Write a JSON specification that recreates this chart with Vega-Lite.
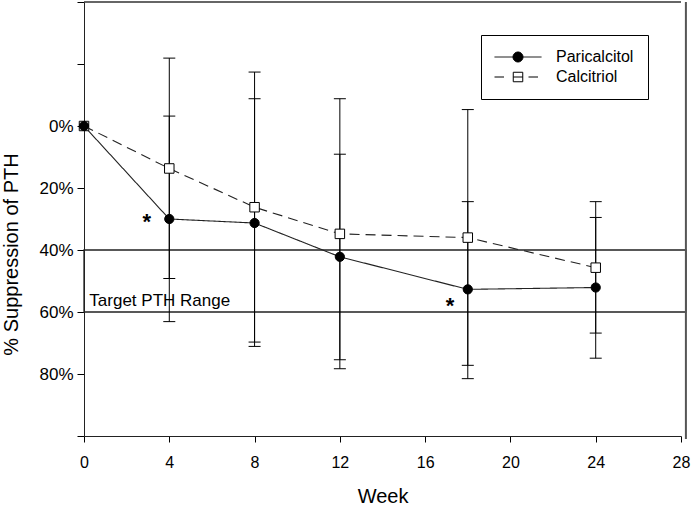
{
  "$schema": "https://vega.github.io/schema/vega-lite/v6.json",
  "width": 597,
  "height": 434,
  "autosize": {"type": "none"},
  "padding": {"left": 84, "top": 2, "right": 12, "bottom": 70},
  "background": "white",
  "config": {"view": {"stroke": null}, "font": "Liberation Sans"},
  "datasets": {
    "series": [
      {"week": 0, "series": "Calcitriol", "value": 0, "lo": null, "hi": null},
      {"week": 4, "series": "Calcitriol", "value": 13.7, "lo": -21.9, "hi": 49.2},
      {"week": 8, "series": "Calcitriol", "value": 26.2, "lo": -17.4, "hi": 69.7},
      {"week": 12, "series": "Calcitriol", "value": 34.8, "lo": -8.8, "hi": 78.3},
      {"week": 18, "series": "Calcitriol", "value": 36.0, "lo": -5.3, "hi": 77.2},
      {"week": 24, "series": "Calcitriol", "value": 45.7, "lo": 24.4, "hi": 66.8},
      {"week": 0, "series": "Paricalcitol", "value": 0, "lo": null, "hi": null},
      {"week": 4, "series": "Paricalcitol", "value": 30.0, "lo": -3.2, "hi": 63.1},
      {"week": 8, "series": "Paricalcitol", "value": 31.3, "lo": -8.8, "hi": 71.1},
      {"week": 12, "series": "Paricalcitol", "value": 42.2, "lo": 9.1, "hi": 75.4},
      {"week": 18, "series": "Paricalcitol", "value": 52.7, "lo": 24.4, "hi": 81.5},
      {"week": 24, "series": "Paricalcitol", "value": 52.1, "lo": 29.5, "hi": 74.9}
    ],
    "stars": [
      {"week": 2.95, "value": 29.4, "label": "*"},
      {"week": 17.17, "value": 56.6, "label": "*"}
    ],
    "notes": [
      {"week": 0.25, "value": 58, "label": "Target PTH Range"}
    ],
    "one": [{}]
  },
  "layer": [
    {
      "data": {"name": "one"},
      "mark": {"type": "rect", "fillOpacity": 0, "stroke": "#222", "strokeWidth": 1.3},
      "encoding": {
        "x": {"datum": 0, "type": "quantitative"},
        "x2": {"datum": 28.23},
        "y": {"datum": 40, "type": "quantitative"},
        "y2": {"datum": 60}
      }
    },
    {
      "data": {"name": "one"},
      "mark": {"type": "rule", "stroke": "#333", "strokeWidth": 1.3},
      "encoding": {
        "x": {"datum": 0, "type": "quantitative"},
        "x2": {"datum": 28},
        "y": {"datum": -40, "type": "quantitative"}
      }
    },
    {
      "data": {"name": "one"},
      "mark": {"type": "rule", "stroke": "#555", "strokeWidth": 2},
      "encoding": {
        "x": {"datum": 28.23, "type": "quantitative"},
        "y": {"datum": -40, "type": "quantitative"},
        "y2": {"datum": 101}
      }
    },
    {
      "data": {"name": "series"},
      "mark": {"type": "rule", "stroke": "black", "strokeWidth": 1},
      "encoding": {
        "x": {"field": "week", "type": "quantitative"},
        "y": {"field": "lo", "type": "quantitative"},
        "y2": {"field": "hi"}
      }
    },
    {
      "data": {"name": "series"},
      "mark": {"type": "tick", "orient": "horizontal", "color": "black", "size": 12, "thickness": 1, "opacity": 1},
      "encoding": {
        "x": {"field": "week", "type": "quantitative"},
        "y": {"field": "lo", "type": "quantitative"}
      }
    },
    {
      "data": {"name": "series"},
      "mark": {"type": "tick", "orient": "horizontal", "color": "black", "size": 12, "thickness": 1, "opacity": 1},
      "encoding": {
        "x": {"field": "week", "type": "quantitative"},
        "y": {"field": "hi", "type": "quantitative"}
      }
    },
    {
      "data": {"name": "series"},
      "mark": {"type": "line", "stroke": "#222", "strokeWidth": 1.1},
      "encoding": {
        "x": {
          "field": "week", "type": "quantitative",
          "scale": {"domain": [0, 28], "nice": false, "zero": false},
          "axis": {
            "values": [0, 4, 8, 12, 16, 20, 24, 28],
            "grid": false, "tickSize": 6, "labelPadding": 12, "labelFontSize": 16,
            "labelColor": "black", "tickColor": "black", "domainColor": "#222",
            "labelFlush": false, "labelOverlap": false,
            "title": "Week", "titleFontSize": 20, "titleFontWeight": "normal", "titleColor": "black",
            "titleBaseline": "alphabetic", "titleY": 66
          }
        },
        "y": {
          "field": "value", "type": "quantitative",
          "scale": {"domain": [-40, 100], "nice": false, "zero": false, "reverse": true},
          "axis": {
            "values": [-40, -20, 0, 20, 40, 60, 80, 100],
            "labelExpr": "datum.value >= 0 && datum.value <= 80 ? datum.value + '%' : ''",
            "grid": false, "tickSize": 7, "labelPadding": 4, "labelFontSize": 17,
            "labelColor": "black", "tickColor": "black", "domainColor": "#222",
            "labelFlush": false, "labelOverlap": false,
            "title": "% Suppression of PTH", "titleFontSize": 20, "titleFontWeight": "normal", "titleColor": "black",
            "titleBaseline": "middle", "titleX": -73, "titleY": 252, "titleAngle": -90
          }
        },
        "detail": {"field": "series"},
        "strokeDash": {
          "field": "series", "type": "nominal",
          "scale": {"domain": ["Paricalcitol", "Calcitriol"], "range": [[1, 0], [10, 6]]},
          "legend": {
            "title": null, "orient": "none", "legendX": 397, "legendY": 33,
            "strokeColor": "black", "fillColor": "white", "padding": 14, "rowPadding": 4,
            "symbolOffset": 15, "labelOffset": 30, "labelFontSize": 16, "labelColor": "black",
            "symbolSize": 100, "symbolStrokeWidth": 1, "symbolStrokeColor": "black",
            "encode": {
              "symbols": {
                "update": {
                  "shape": {"signal": "datum.value === 'Paricalcitol' ? 'M-4.7,0H4.7M-1,0A1,1 0 1,0 1,0A1,1 0 1,0 -1,0Z' : 'M-4.7,0H-2.8M-0.95,-0.95H0.95M0.95,-0.95V0.95M0.95,0.95H-0.95M-0.95,0.95V-0.95M-0.95,0H0.95M2.1,0H4.0'"},
                  "fill": {"signal": "datum.value === 'Paricalcitol' ? 'black' : 'white'"},
                  "fillOpacity": {"value": 1},
                  "opacity": {"value": 1},
                  "stroke": {"value": "black"},
                  "strokeWidth": {"value": 1}
                }
              }
            }
          }
        }
      }
    },
    {
      "data": {"name": "series"},
      "transform": [{"filter": "datum.series === 'Calcitriol'"}],
      "mark": {"type": "point", "shape": "square", "fill": "white", "fillOpacity": 1, "stroke": "black", "strokeWidth": 1, "opacity": 1, "size": 90},
      "encoding": {
        "x": {"field": "week", "type": "quantitative"},
        "y": {"field": "value", "type": "quantitative"}
      }
    },
    {
      "data": {"name": "series"},
      "transform": [{"filter": "datum.series === 'Paricalcitol'"}],
      "mark": {"type": "point", "shape": "circle", "fill": "black", "fillOpacity": 1, "stroke": "black", "strokeWidth": 1, "opacity": 1, "size": 85},
      "encoding": {
        "x": {"field": "week", "type": "quantitative"},
        "y": {"field": "value", "type": "quantitative"}
      }
    },
    {
      "data": {"name": "stars"},
      "mark": {"type": "text", "fontSize": 22, "fontWeight": "bold", "align": "center", "baseline": "alphabetic", "dy": 12, "color": "black"},
      "encoding": {
        "x": {"field": "week", "type": "quantitative"},
        "y": {"field": "value", "type": "quantitative"},
        "text": {"field": "label"}
      }
    },
    {
      "data": {"name": "notes"},
      "mark": {"type": "text", "fontSize": 17, "align": "left", "baseline": "alphabetic", "color": "black"},
      "encoding": {
        "x": {"field": "week", "type": "quantitative"},
        "y": {"field": "value", "type": "quantitative"},
        "text": {"field": "label"}
      }
    }
  ]
}
